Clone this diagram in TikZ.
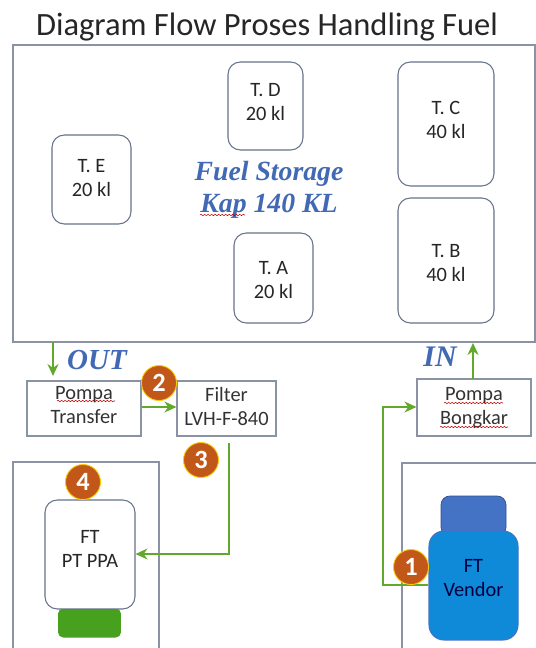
\documentclass[tikz,border=0pt]{standalone}
\usepackage{fontspec}
\setmainfont{Carlito}
\newfontfamily\serifbi{Liberation Serif}
\usetikzlibrary{arrows.meta,decorations.pathmorphing}
\definecolor{boxgray}{HTML}{8A93A3}
\definecolor{tankline}{HTML}{66738A}
\definecolor{flowgreen}{HTML}{62A82A}
\definecolor{labblue}{HTML}{4169B4}
\definecolor{badgefill}{HTML}{C2571A}
\definecolor{vendorblue}{HTML}{0F8AD8}
\definecolor{capblue}{HTML}{4472C4}
\definecolor{capgreen}{HTML}{47A01E}
\tikzset{
  frame/.style={draw=boxgray, line width=0.8pt, rectangle, inner sep=0pt},
  blk/.style={draw=boxgray, line width=0.7pt, rectangle, inner sep=0pt, align=center, text=black!80, font=\fontsize{11.6}{13.7}\selectfont},
  tank/.style={draw=tankline, line width=0.6pt, fill=white, rounded corners=7pt, inner sep=0pt, align=center, text=black!85, font=\fontsize{11.6}{13.7}\selectfont},
  arr/.style={-{Stealth[length=2.4mm,width=2.2mm]}, flowgreen, line width=1pt},
  badge/.style={circle, fill=badgefill, draw=yellow!65!orange, line width=0.5pt, minimum size=0.7cm, inner sep=0pt, text=white, font=\fontsize{15}{16}\selectfont\bfseries},
  tag/.style={text=labblue, font=\serifbi\bfseries\itshape\fontsize{15.8}{18.4}\selectfont, align=center, inner sep=0pt},
  wavy/.style={red!75!black, line width=0.3pt, decorate, decoration={snake, amplitude=0.4pt, segment length=2pt}},
}
\begin{document}
\begin{tikzpicture}[x=0.02cm, y=-0.02cm]
\useasboundingbox (0,0) rectangle (536,648);

% Title
\node[inner sep=0pt, text=black!85, font=\fontsize{18.5}{20}\selectfont] (title) at (267,27) {Diagram Flow Proses Handling Fuel};

% Storage and tanks
\node[frame, minimum width=10.44cm, minimum height=5.94cm] (store) at (274,193.5) {};
\node[tank, minimum width=1.5cm, minimum height=1.76cm, text depth=5pt] (td) at (265.5,106) {T. D\\20 kl};
\node[tank, minimum width=1.92cm, minimum height=2.48cm, text depth=5pt] (tc) at (446,124) {T. C\\40 kl};
\node[tank, minimum width=1.58cm, minimum height=1.78cm, text depth=2pt] (te) at (91.5,179.5) {T. E\\20 kl};
\node[tank, minimum width=1.92cm, minimum height=2.5cm, text height=23.5pt] (tb) at (446,260.5) {T. B\\40 kl};
\node[tank, minimum width=1.58cm, minimum height=1.8cm, text height=23.5pt] (ta) at (273.5,278) {T. A\\20 kl};
\node[tag] (fuel) at (269,190) {Fuel Storage\\Kap 140 KL};

% Pumps and filter
\node[blk, minimum width=2.28cm, minimum height=1.1cm, text depth=4pt] (transfer) at (84,408.5) {Pompa\\Transfer};
\node[blk, minimum width=1.98cm, minimum height=1.1cm, text depth=2pt] (filter) at (226.5,408.5) {Filter\\LVH-F-840};
\node[blk, minimum width=2.28cm, minimum height=1.14cm, text depth=2pt] (bongkar) at (474,407.5) {Pompa\\Bongkar};
\node[tag, font=\serifbi\bfseries\itshape\fontsize{16.5}{18}\selectfont] (out) at (97,360) {OUT};
\node[tag, font=\serifbi\bfseries\itshape\fontsize{17}{18}\selectfont] (in) at (440,357) {IN};

% Spelling marks
\draw[wavy] (57,401) -- (115,401);
\draw[wavy] (444,403) -- (503,403);
\draw[wavy] (440,427) -- (508,427);
\draw[wavy] (200,215) -- (245,215);

% Truck bays
\draw[boxgray, line width=0.8pt] (13,648) |- (159,462) -- (159,648);
\draw[boxgray, line width=0.8pt] (402,648) |- (536,463);

% Trucks
\node[fill=capgreen, rounded corners=3pt, minimum width=1.26cm, minimum height=0.58cm, inner sep=0pt] (ppacap) at (89.5,623) {};
\node[tank, minimum width=1.8cm, minimum height=2.18cm, text depth=6pt] (ppa) at (90,554.5) {FT\\PT PPA};
\node[draw=capblue!70!black, fill=capblue, rounded corners=5pt, minimum width=1.3cm, minimum height=0.8cm, inner sep=0pt] (vencap) at (473.5,516) {};
\node[tank, draw=capblue, fill=vendorblue, rounded corners=8.5pt, text=black!75!blue, minimum width=1.78cm, minimum height=2.18cm, text depth=9pt] (vendor) at (473.5,585.5) {FT\\Vendor};

% Flow lines
\coordinate (outtop) at (53,342);
\coordinate (outend) at (53,376);
\coordinate (intop) at (473,343);
\coordinate (inend) at (473,379);
\coordinate (filterend) at (229,443);
\coordinate (ppaend) at (ppa.east |- 0,554);
\coordinate (venstart) at (vendor.west |- 0,585);
\coordinate (bongend) at (bongkar.west |- 0,407);
\draw[arr] (outtop) -- (outend);
\draw[arr] (inend) -- (intop);
\draw[arr] (transfer.east |- 0,407) -- (filter.west |- 0,407);
\draw[arr] (filterend) |- (ppaend);
\draw[arr] (venstart) -- (383,585) |- (bongend);

% Numbers
\node[badge] (n1) at (411,567) {1};
\node[badge] (n2) at (159,383) {2};
\node[badge] (n3) at (201,460) {3};
\node[badge] (n4) at (83,482) {4};
\end{tikzpicture}
\end{document}
